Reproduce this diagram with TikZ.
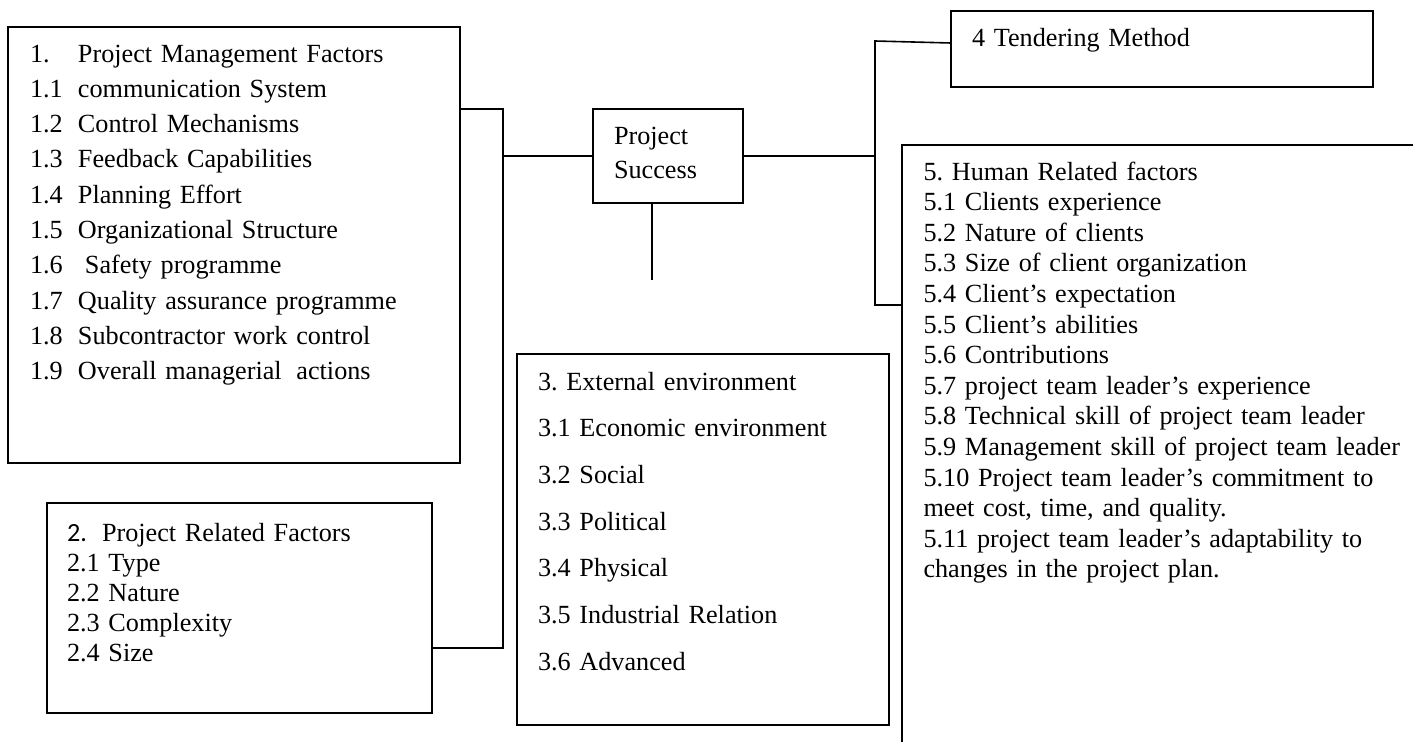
\documentclass[tikz,border=0pt]{standalone}
\usepackage{fontspec}
\setmainfont{Liberation Serif}
\newfontfamily\numfont{Carlito}
\frenchspacing
\begin{document}
\begin{tikzpicture}[x=1pt,y=-1pt,
  frame/.style={draw, line width=1.6pt, inner sep=0pt, outer sep=0pt, anchor=north west},
  link/.style={line width=1.6pt},
  list/.style={anchor=base west, inner sep=0pt, outer sep=0pt, align=left},
]
\useasboundingbox (0,0) rectangle (1413,742);

% ---- boxes ----
\node[frame, minimum width=452pt, minimum height=436pt] (pm) at (8,27) {};
\node[frame, minimum width=385pt, minimum height=210pt] (pr) at (47,503) {};
\node[frame, minimum width=150pt, minimum height=94pt]  (ps) at (593,109) {};
\node[frame, minimum width=372pt, minimum height=371pt] (ee) at (517,354) {};
\node[frame, minimum width=422pt, minimum height=76pt]  (tm) at (951,11) {};
% open box: only its top and left sides are drawn
\node[frame, draw=none, minimum width=511pt, minimum height=597pt] (hr) at (902,145) {};
\draw[link] (hr.south west) -- (hr.north west) -- (hr.north east);

% ---- texts ----
\node[list, text width=425pt, font=\fontsize{26.2}{35.3}\selectfont] (pmt) at (30,62) {%
\makebox[48pt][l]{1.}Project Management Factors\\
\makebox[48pt][l]{1.1}communication System\\
\makebox[48pt][l]{1.2}Control Mechanisms\\
\makebox[48pt][l]{1.3}Feedback Capabilities\\
\makebox[48pt][l]{1.4}Planning Effort\\
\makebox[48pt][l]{1.5}Organizational Structure\\
\makebox[48pt][l]{1.6}\hspace{7pt}Safety programme\\
\makebox[48pt][l]{1.7}Quality assurance programme\\
\makebox[48pt][l]{1.8}Subcontractor work control\\
\makebox[48pt][l]{1.9}Overall managerial\hspace{6pt} actions};

\node[list, text width=360pt, font=\fontsize{26.2}{30}\selectfont] (prt) at (67,541.5) {%
\makebox[35pt][l]{\numfont 2.}Project Related Factors\\
2.1 Type\\
2.2 Nature\\
2.3 Complexity\\
2.4 Size};

\node[list, text width=140pt, font=\fontsize{26.2}{34}\selectfont] (pst) at (614,144) {%
Project\\
Success};

\node[list, text width=345pt, font=\fontsize{26.2}{46.7}\selectfont] (eet) at (538,390) {%
3. External environment\\
3.1 Economic environment\\
3.2 Social\\
3.3 Political\\
3.4 Physical\\
3.5 Industrial Relation\\
3.6 Advanced};

\node[list, text width=390pt, font=\fontsize{26.2}{30}\selectfont] (tmt) at (972,46) {%
4 Tendering Method};

\node[list, text width=488pt, font=\fontsize{26.2}{30.6}\selectfont] (hrt) at (923.5,180) {%
5. Human Related factors\\
5.1 Clients experience\\
5.2 Nature of clients\\
5.3 Size of client organization\\
5.4 Client’s expectation\\
5.5 Client’s abilities\\
5.6 Contributions\\
5.7 project team leader’s experience\\
5.8 Technical skill of project team leader\\
5.9 Management skill of project team leader\\
5.10 Project team leader’s commitment to\\
meet cost, time, and quality.\\
5.11 project team leader’s adaptability to\\
changes in the project plan.};

% ---- connectors ----
\coordinate (lt) at (503,109);
\coordinate (lb) at (503,648);
\coordinate (rt) at (875,41);
\coordinate (rb) at (875,305);
\coordinate (st) at (652,280);

\draw[link] (pm.east |- lt) -- (lt) -- (lb) -- (pr.east |- lb);
\draw[link] (ps.west) -- (ps.west -| lt);
\draw[link] (ps.east) -- (ps.east -| rt);
\draw[link] ([yshift=-32pt]tm.north west) -- (rt) -- (rb) -- (rb -| hr.west);
\draw[link] (ps.south -| st) -- (st);
\end{tikzpicture}
\end{document}
